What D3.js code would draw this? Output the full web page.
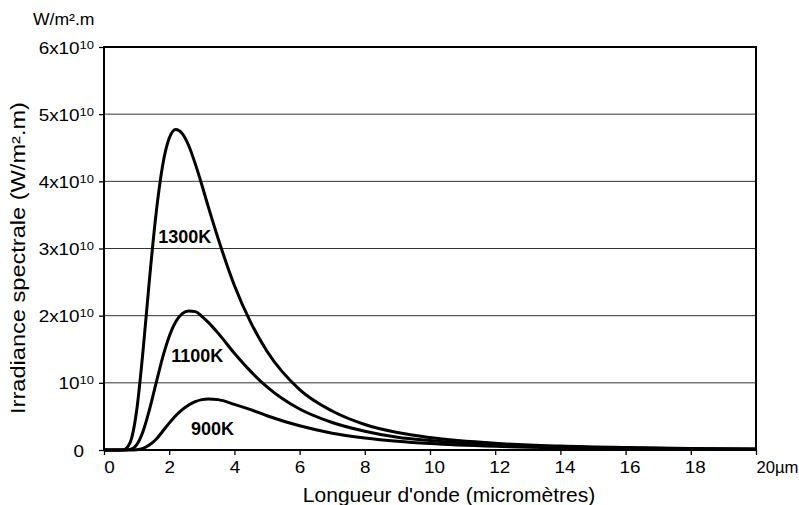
<!DOCTYPE html>
<html>
<head>
<meta charset="utf-8">
<script src="https://cdn.jsdelivr.net/npm/d3@7"></script>
<style>
  html, body { margin: 0; padding: 0; background: #fff; }
  svg { display: block; font-family: "Liberation Sans", Arial, sans-serif; }
</style>
</head>
<body>
<svg id="chart" width="799" height="505"></svg>
<script>
// wavelength in micrometres, irradiance in units of 10^10 W/m².m
const wavelengths = [0, 0.4, 0.6, 0.8, 1.0, 1.2, 1.4, 1.6, 1.8, 2.0, 2.2, 2.4, 2.6, 2.8, 3.0, 3.2, 3.5, 4.0, 4.5, 5, 6, 7, 8, 9, 10, 12, 14, 16, 18, 20];
const irr1300 = [0, 0, 0.005, 0.11, 0.58, 1.49, 2.57, 3.53, 4.24, 4.64, 4.77, 4.71, 4.53, 4.26, 3.95, 3.62, 3.15, 2.45, 1.90, 1.47, 0.90, 0.58, 0.38, 0.26, 0.185, 0.099, 0.058, 0.036, 0.023, 0.016];
const irr1100 = [0, 0, 0, 0.009, 0.078, 0.28, 0.61, 1.00, 1.38, 1.69, 1.91, 2.03, 2.07, 2.06, 1.99, 1.90, 1.74, 1.44, 1.17, 0.94, 0.61, 0.41, 0.28, 0.19, 0.14, 0.076, 0.045, 0.028, 0.019, 0.013];
const irr900 = [0, 0, 0, 0, 0.004, 0.025, 0.077, 0.16, 0.28, 0.40, 0.51, 0.60, 0.67, 0.72, 0.75, 0.76, 0.75, 0.68, 0.60, 0.51, 0.36, 0.25, 0.18, 0.13, 0.095, 0.054, 0.033, 0.021, 0.014, 0.010];

const seriesNames = ['1300K', '1100K', '900K'];
// label anchor (wavelength, irradiance) for each curve name
const labelLambda = [2.48, 2.86, 3.33];
const labelIrr = [3.08, 1.31, 0.22];

const xTicks = [0, 2, 4, 6, 8, 10, 12, 14, 16, 18, 20];
const xTickLabels = ['0', '2', '4', '6', '8', '10', '12', '14', '16', '18', '20µm'];
const yTicks = [0, 1, 2, 3, 4, 5, 6];
const yTickMain = ['0', '10', '2x10', '3x10', '4x10', '5x10', '6x10'];
const yTickSup = ['', '10', '10', '10', '10', '10', '10'];

const xTitle = "Longueur d'onde (micromètres)";
const yTitle = 'Irradiance spectrale (W/m².m)';
const unitLabel = 'W/m².m';

const margin = {top: 47, right: 43, bottom: 55, left: 104};
const width = 799 - margin.left - margin.right;
const height = 505 - margin.top - margin.bottom;
const SX = 1.18; // text in the reference is a bit wider than Arial

const svg = d3.select('#chart');
const g = svg.append('g')
  .attr('transform', 'translate(' + margin.left + ',' + margin.top + ')');

const x = d3.scaleLinear().domain([0, 20]).range([0, width]);
const y = d3.scaleLinear().domain([0, 6]).range([height, 0]);

// grid lines
g.append('g')
  .selectAll('line')
  .data(yTicks.filter((d) => d > 0 && d < 6))
  .enter().append('line')
  .attr('x1', 0).attr('x2', width)
  .attr('y1', (d) => y(d)).attr('y2', (d) => y(d))
  .style('stroke', '#333')
  .style('stroke-width', 1);

// x axis
const lastTick = xTicks.length - 1;
const xAxis = g.append('g')
  .attr('transform', 'translate(0,' + height + ')')
  .call(d3.axisBottom(x).tickValues(xTicks).tickSize(5).tickSizeOuter(0)
    .tickFormat((d, i) => xTickLabels[i]));
xAxis.select('.domain').remove();
xAxis.selectAll('line').style('stroke', '#000').style('stroke-width', 1.3);
xAxis.selectAll('text')
  .style('font-size', '16px')
  .style('fill', '#000')
  .attr('y', 0).attr('dy', 0)
  .attr('transform', (d, i) => i === lastTick ?
    'translate(0,23)' :
    'translate(0,23) scale(' + SX + ',1)')
  .attr('text-anchor', (d, i) => i === lastTick ? 'start' : 'middle')
  .attr('x', (d, i) => {
    if (i === lastTick) return 0;
    if (i === 0) return 5 / SX;
    return xTickLabels[i].length > 1 ? 4 / SX : 0;
  });
// the last label has to fit before the right edge
xAxis.selectAll('text')
  .filter((d, i) => i === lastTick)
  .style('font-size', '17px')
  .attr('textLength', 42)
  .attr('lengthAdjust', 'spacingAndGlyphs');

// y axis
const yAxis = g.append('g')
  .call(d3.axisLeft(y).tickValues(yTicks).tickSize(5).tickSizeOuter(0).tickFormat(''));
yAxis.select('.domain').remove();
yAxis.selectAll('line').style('stroke', '#000').style('stroke-width', 1.3);
yAxis.selectAll('.tick').each(function(d, i) {
  const t = d3.select(this).append('text')
    .attr('text-anchor', 'end')
    .attr('transform', 'translate(' + (yTickSup[i] ? -10 : -20) + ',6) scale(' + SX + ',1)')
    .style('font-size', '16px')
    .style('fill', '#000');
  t.append('tspan').text(yTickMain[i]);
  if (yTickSup[i]) {
    t.append('tspan')
      .attr('dy', -5)
      .style('font-size', '11px')
      .text(yTickSup[i]);
  }
});

// frame
g.append('rect')
  .attr('x', 0).attr('y', 0)
  .attr('width', width).attr('height', height)
  .style('fill', 'none')
  .style('stroke', '#000')
  .style('stroke-width', 2);

// curves
const allSeries = [irr1300, irr1100, irr900];
const line = d3.line()
  .x((d, i) => x(wavelengths[i]))
  .y((d) => y(d))
  .curve(d3.curveMonotoneX);

g.append('g')
  .selectAll('path')
  .data(allSeries)
  .enter().append('path')
  .attr('d', line)
  .style('fill', 'none')
  .style('stroke', '#000')
  .style('stroke-width', 3)
  .style('stroke-linejoin', 'round');

// curve names
g.append('g')
  .selectAll('text')
  .data(seriesNames)
  .enter().append('text')
  .attr('x', (d, i) => x(labelLambda[i]))
  .attr('y', (d, i) => y(labelIrr[i]))
  .attr('text-anchor', 'middle')
  .style('font-size', '18px')
  .style('font-weight', 'bold')
  .style('fill', '#000')
  .text((d) => d);

// axis titles
svg.append('text')
  .attr('text-anchor', 'middle')
  .attr('transform', 'translate(449,502)')
  .style('font-size', '21px')
  .style('fill', '#000')
  .text(xTitle);

svg.append('text')
  .attr('text-anchor', 'middle')
  .attr('transform', 'translate(25,258) rotate(-90) scale(' + SX + ',1)')
  .style('font-size', '20px')
  .style('fill', '#000')
  .text(yTitle);

svg.append('text')
  .attr('text-anchor', 'start')
  .attr('transform', 'translate(33,25) scale(1.1,1)')
  .style('font-size', '16px')
  .style('fill', '#000')
  .text(unitLabel);
</script>
</body>
</html>
